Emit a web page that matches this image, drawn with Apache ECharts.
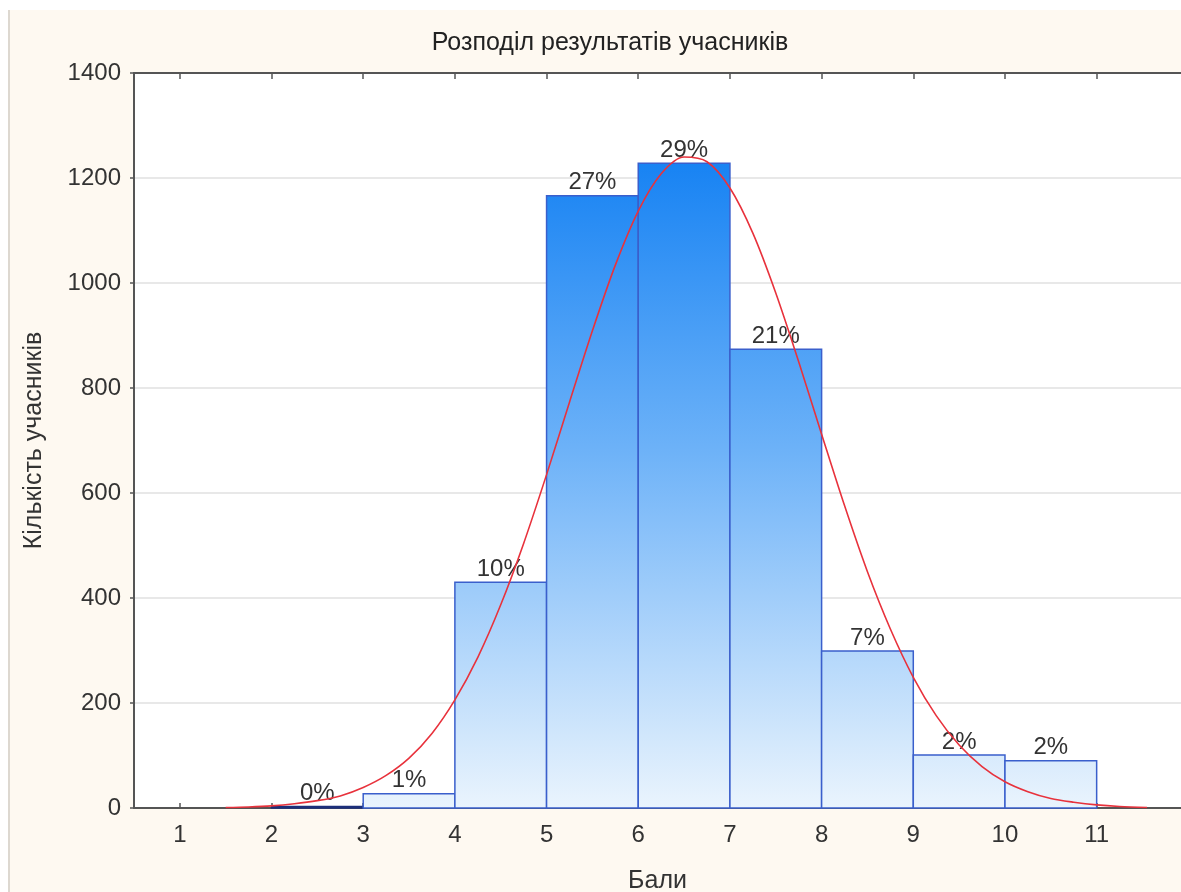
<!DOCTYPE html>
<html>
<head>
<meta charset="utf-8">
<script src="https://cdn.jsdelivr.net/npm/echarts@6/dist/echarts.min.js"></script>
<style>
  html, body { margin: 0; padding: 0; background: #ffffff; }
  #wrap { position: relative; width: 1181px; height: 892px; overflow: hidden; }
  #bg { position: absolute; left: 8px; top: 10px; right: 0; bottom: 0; background: #fef9f1; border-left: 2px solid #ddd8d0; }
  #chart { position: absolute; left: 0; top: 0; width: 1181px; height: 892px; }
</style>
</head>
<body>
<div id="wrap"><div id="bg"></div><div id="chart"></div></div>
<script>
// ---- data ----
const titleText = 'Розподіл результатів учасників';
const xAxisName = 'Бали';
const yAxisName = 'Кількість учасників';
const xTickValues = [1, 2, 3, 4, 5, 6, 7, 8, 9, 10, 11];
const binStart = [2, 3, 4, 5, 6, 7, 8, 9, 10];
const binEnd = [3, 4, 5, 6, 7, 8, 9, 10, 11];
const counts = [3, 27, 430, 1166, 1228, 874, 299, 101, 90];
const pctLabels = ['0%', '1%', '10%', '27%', '29%', '21%', '7%', '2%', '2%'];
// fitted (red) curve
const curveX = [1.5, 1.75, 2, 2.25, 2.5, 2.75, 3, 3.25, 3.5, 3.75, 4, 4.25, 4.5, 4.75, 5, 5.25, 5.5, 5.75, 6, 6.25, 6.5,
                6.75, 7, 7.25, 7.5, 7.75, 8, 8.25, 8.5, 8.75, 9, 9.25, 9.5, 9.75, 10, 10.25, 10.5, 10.75, 11, 11.25, 11.55];
const curveY = [1, 2, 4, 8, 14, 23, 39, 62, 95, 142, 206, 287, 387, 504, 635, 773, 909, 1034, 1137, 1208, 1240,
                1231, 1181, 1095, 981, 850, 712, 576, 450, 341, 249, 176, 120, 79, 50, 31, 18, 11, 6, 3, 1];
const yMin = 0, yMax = 1400, yStep = 200;
const xMin = 0.5, xMax = 11.92;

const FONT = '"Liberation Sans", Arial, sans-serif';
const chart = echarts.init(document.getElementById('chart'), null, { renderer: 'canvas' });

const barData = binStart.map((s, i) => [s, binEnd[i], counts[i]]);
const curveData = curveX.map((x, i) => [x, curveY[i]]);

const axisLineStyle = { color: '#555555', width: 2 };

const option = {
  backgroundColor: 'transparent',
  animation: false,
  title: {
    text: titleText,
    left: 605, top: 26, textAlign: 'center',
    textStyle: { fontFamily: FONT, fontSize: 25, fontWeight: 'normal', color: '#222222' }
  },
  grid: {
    left: 134, right: 0, top: 73, bottom: 84,
    outerBoundsMode: 'none', containLabel: false,
    show: true, backgroundColor: '#ffffff', borderWidth: 0
  },
  xAxis: [{
    type: 'value', min: xMin, max: xMax, position: 'bottom',
    name: xAxisName, nameLocation: 'middle', nameGap: 61,
    nameTextStyle: { fontFamily: FONT, fontSize: 25, color: '#333333' },
    axisLine: { show: true, onZero: false, lineStyle: axisLineStyle },
    axisTick: { show: true, inside: true, length: 5, customValues: xTickValues, lineStyle: { color: '#555555', width: 1.5 } },
    axisLabel: { customValues: xTickValues, fontFamily: FONT, fontSize: 24, color: '#333333', margin: 15 },
    splitLine: { show: false }
  }, {
    type: 'value', min: xMin, max: xMax, position: 'top',
    axisLine: { show: true, onZero: false, lineStyle: axisLineStyle },
    axisTick: { show: true, inside: true, length: 6, customValues: xTickValues, lineStyle: { color: '#555555', width: 1.5 } },
    axisLabel: { show: false },
    splitLine: { show: false }
  }],
  yAxis: {
    type: 'value', min: yMin, max: yMax, interval: yStep,
    name: yAxisName, nameLocation: 'middle', nameGap: 87,
    nameTextStyle: { fontFamily: FONT, fontSize: 25, color: '#333333' },
    axisLine: { show: true, onZero: false, lineStyle: axisLineStyle },
    axisTick: { show: true, inside: false, length: 4, lineStyle: { color: '#555555', width: 1.5 } },
    axisLabel: { fontFamily: FONT, fontSize: 24, color: '#333333', margin: 13, formatter: function (v) { return String(v); } },
    splitLine: { show: true, lineStyle: { color: '#e0e0e0', width: 1.5 } }
  },
  series: [{
    type: 'custom',
    xAxisIndex: 0,
    data: barData,
    encode: { x: [0, 1], y: 2 },
    z: 2,
    renderItem: function (params, api) {
      const x0 = api.value(0), x1 = api.value(1), v = api.value(2);
      const pTop = api.coord([x0, v]);
      const pBot = api.coord([x1, 0]);
      const gTop = api.coord([x0, 1240])[1];
      const fill = new echarts.graphic.LinearGradient(0, gTop, 0, pBot[1], [
        { offset: 0, color: '#1682f3' },
        { offset: 0.45, color: '#6db2f8' },
        { offset: 1, color: '#eaf4fd' }
      ], true);
      const cx = (pTop[0] + pBot[0]) / 2;
      return {
        type: 'group',
        children: [{
          type: 'rect',
          shape: { x: pTop[0], y: pTop[1], width: pBot[0] - pTop[0], height: pBot[1] - pTop[1] },
          style: { fill: fill, stroke: v < 10 ? '#1c2f7a' : '#3a5fcc', lineWidth: 1.5 }
        }, {
          type: 'text',
          style: {
            text: pctLabels[params.dataIndex], x: cx, y: pTop[1] - 1,
            align: 'center', verticalAlign: 'bottom',
            textAlign: 'center', textVerticalAlign: 'bottom',
            fontFamily: FONT, fontSize: 24, fill: '#333333'
          }
        }]
      };
    }
  }, {
    type: 'line',
    xAxisIndex: 0,
    data: curveData,
    smooth: 0.3,
    showSymbol: false,
    z: 5,
    lineStyle: { color: '#e8323c', width: 1.6 }
  }]
};
chart.setOption(option);
</script>
</body>
</html>
